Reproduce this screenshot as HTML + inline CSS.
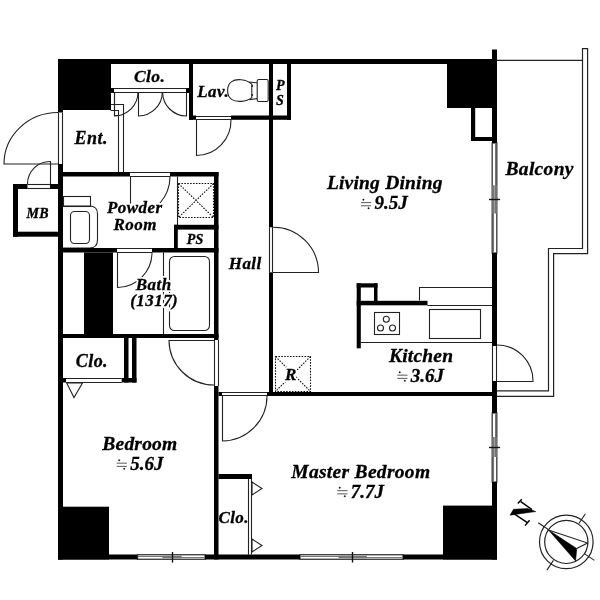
<!DOCTYPE html>
<html><head><meta charset="utf-8"><style>html,body{margin:0;padding:0;background:#fff;width:600px;height:600px;overflow:hidden}svg{display:block;will-change:transform}</style></head>
<body><svg width="600" height="600" viewBox="0 0 600 600">
<rect width="600" height="600" fill="#fff"/>
<line x1="58.5" y1="112.5" x2="58.5" y2="164" stroke="#222" stroke-width="1.1"/><line x1="62.5" y1="112.5" x2="62.5" y2="164" stroke="#222" stroke-width="1.1"/><path d="M58 164L4 164A54 51.5 0 0 1 58 112.5" fill="none" stroke="#222" stroke-width="1.1"/><line x1="27.5" y1="184.5" x2="50" y2="184.5" stroke="#222" stroke-width="1.1"/><line x1="27.5" y1="188.5" x2="50" y2="188.5" stroke="#222" stroke-width="1.1"/><path d="M50.5 184L50.5 161.5A22.5 22.5 0 0 0 27.5 184" fill="none" stroke="#222" stroke-width="1.1"/><line x1="130" y1="172.5" x2="170" y2="172.5" stroke="#222" stroke-width="1.1"/><line x1="130" y1="176.5" x2="170" y2="176.5" stroke="#222" stroke-width="1.1"/><path d="M130.5 205.5L130.5 176.5" fill="none" stroke="#222" stroke-width="1.1"/><path d="M170 176.5A40 40 0 0 1 160 203" fill="none" stroke="#222" stroke-width="1.1"/><line x1="214.5" y1="340" x2="214.5" y2="386" stroke="#222" stroke-width="1.1"/><line x1="218.5" y1="340" x2="218.5" y2="386" stroke="#222" stroke-width="1.1"/><path d="M214 340.5L169 340.5A45 45 0 0 0 214 385" fill="none" stroke="#222" stroke-width="1.1"/><line x1="117" y1="248.5" x2="152" y2="248.5" stroke="#222" stroke-width="1.1"/><line x1="117" y1="252.5" x2="152" y2="252.5" stroke="#222" stroke-width="1.1"/><path d="M117.5 252.5L117.5 287.5A35 35 0 0 0 152 252.5" fill="none" stroke="#222" stroke-width="1.1"/><line x1="66" y1="378.5" x2="121.7" y2="378.5" stroke="#222" stroke-width="1.1"/><line x1="66" y1="382.5" x2="121.7" y2="382.5" stroke="#222" stroke-width="1.1"/><path d="M66.7 383L82.5 383L74 397.5Z" fill="none" stroke="#222" stroke-width="1.1"/><line x1="222" y1="392.5" x2="267" y2="392.5" stroke="#222" stroke-width="1.1"/><line x1="222" y1="395.5" x2="267" y2="395.5" stroke="#222" stroke-width="1.1"/><path d="M222.5 396L222.5 441A45 45 0 0 0 267 396" fill="none" stroke="#222" stroke-width="1.1"/><line x1="269.5" y1="227.3" x2="269.5" y2="272.3" stroke="#222" stroke-width="1.1"/><line x1="272.5" y1="227.3" x2="272.5" y2="272.3" stroke="#222" stroke-width="1.1"/><path d="M273 272.5L318.5 272.5A45.3 45.3 0 0 0 273 227.3" fill="none" stroke="#222" stroke-width="1.1"/><line x1="196" y1="116.5" x2="231" y2="116.5" stroke="#222" stroke-width="1.1"/><line x1="196" y1="119.5" x2="231" y2="119.5" stroke="#222" stroke-width="1.1"/><path d="M196.5 119.8L196.5 155.5A35 35 0 0 0 231 119.8" fill="none" stroke="#222" stroke-width="1.1"/><line x1="248.5" y1="479" x2="248.5" y2="554.5" stroke="#222" stroke-width="1.1"/><line x1="251.5" y1="479" x2="251.5" y2="554.5" stroke="#222" stroke-width="1.1"/><path d="M252 482L262 488.5L252 495Z" fill="none" stroke="#222" stroke-width="1.1"/><path d="M252 539L262 545.5L252 552Z" fill="none" stroke="#222" stroke-width="1.1"/><line x1="492.5" y1="346" x2="492.5" y2="381" stroke="#222" stroke-width="1.1"/><line x1="496.5" y1="346" x2="496.5" y2="381" stroke="#222" stroke-width="1.1"/><path d="M497 381.5L533 381.5A36 36 0 0 0 497 345" fill="none" stroke="#222" stroke-width="1.1"/><line x1="111" y1="88.5" x2="189" y2="88.5" stroke="#222" stroke-width="1.1"/><line x1="111" y1="92.5" x2="189" y2="92.5" stroke="#222" stroke-width="1.1"/><path d="M114.5 92.2L114.5 116A24 24 0 0 0 138 92.2" fill="none" stroke="#222" stroke-width="1.1"/><path d="M138.5 92.2L138.5 116A24 24 0 0 0 162.3 92.2" fill="none" stroke="#222" stroke-width="1.1"/><path d="M186.5 92.2L186.5 116A24 24 0 0 1 162.6 92.2" fill="none" stroke="#222" stroke-width="1.1"/><path d="M110.5 104.5L123.5 104.5L123.5 172.5" fill="none" stroke="#222" stroke-width="1.1"/><path d="M110.5 110.5L118.5 110.5L118.5 172.5" fill="none" stroke="#222" stroke-width="1.1"/><path d="M114.5 92.5L114.5 115.5L118.5 115.5" fill="none" stroke="#222" stroke-width="1.1"/><rect x="63.5" y="196.5" width="27.0" height="10.0" rx="0" fill="none" stroke="#222" stroke-width="1.1"/><path d="M63 206L89.5 206Q97.5 206 97.5 214L97.5 240Q97.5 248 89.5 248L63 248" fill="none" stroke="#222" stroke-width="1.1"/><rect x="70.5" y="211.5" width="19.0" height="32.0" rx="4" fill="none" stroke="#222" stroke-width="1.1"/><path d="M177.5 176.5L177.5 225.5" fill="none" stroke="#222" stroke-width="1.1"/><rect x="178.5" y="183.5" width="35.0" height="34.0" rx="0" fill="none" stroke="#111" stroke-width="1.1" stroke-dasharray="1.6 1.3"/><path d="M178.5 183.5L213.5 217.5M213.5 183.5L178.5 217.5" fill="none" stroke="#111" stroke-width="1.1" stroke-dasharray="1.6 1.3"/><line x1="163.5" y1="252.5" x2="163.5" y2="334" stroke="#222" stroke-width="1.1"/><rect x="169.5" y="256.5" width="40.0" height="74.0" rx="5" fill="none" stroke="#222" stroke-width="1.1"/><rect x="275.5" y="356.5" width="35.0" height="35.0" rx="0" fill="none" stroke="#111" stroke-width="1.1" stroke-dasharray="1.6 1.3"/><path d="M275.5 356.5L310.5 391.5M310.5 356.5L275.5 391.5" fill="none" stroke="#111" stroke-width="1.1" stroke-dasharray="1.6 1.3"/><path d="M419.5 300.5L419.5 287.5L492.5 287.5" fill="none" stroke="#222" stroke-width="1.1"/><line x1="427.5" y1="305.5" x2="492" y2="305.5" stroke="#222" stroke-width="1.1"/><line x1="360.8" y1="342.5" x2="492" y2="342.5" stroke="#222" stroke-width="1.1"/><rect x="374.5" y="312.5" width="25.0" height="22.0" rx="0" fill="none" stroke="#222" stroke-width="1.1"/><circle cx="386.3" cy="319.2" r="3" fill="none" stroke="#222" stroke-width="1.1"/><circle cx="380.5" cy="328" r="3" fill="none" stroke="#222" stroke-width="1.1"/><circle cx="392.5" cy="328" r="3" fill="none" stroke="#222" stroke-width="1.1"/><rect x="429.5" y="309.5" width="51.0" height="29.0" rx="0" fill="none" stroke="#222" stroke-width="1.1"/><path d="M251.8 84.2C246 78.8 236 78.6 231.6 81.6C226.3 85.3 226.3 95.8 231.6 99.4C236 102.4 246 102.2 251.8 97.6Z" fill="none" stroke="#222" stroke-width="1.1"/><path d="M249.5 82L257 82.8M249.5 99.6L257 98.6" fill="none" stroke="#222" stroke-width="1.1"/><circle cx="252.3" cy="86" r="0.9" fill="#222"/><circle cx="252.3" cy="95" r="0.9" fill="#222"/><rect x="257.2" y="79.5" width="11" height="22" rx="1.6" fill="none" stroke="#222" stroke-width="1.1"/><path d="M497 60.3L582.5 60.3L582.5 48.6L587.6 48.6L587.6 253.6L553.6 253.6L553.6 396.4L497 396.4" fill="none" stroke="#222" stroke-width="1.2"/><path d="M582.5 60.3L582.5 248.5L548.5 248.5L548.5 390.9L497 390.9" fill="none" stroke="#222" stroke-width="1.2"/><rect x="137.5" y="554.7" width="67.5" height="4.6" fill="#fff" stroke="#444" stroke-width="1.4"/><rect x="162.5" y="555.1" width="19.0" height="3.8" fill="#a0a0a0"/><line x1="137.5" y1="556.5" x2="181.5" y2="556.5" stroke="#777" stroke-width="1.1"/><line x1="162.5" y1="557.5" x2="205" y2="557.5" stroke="#777" stroke-width="1.1"/><line x1="172.5" y1="552.0" x2="172.5" y2="562.5" stroke="#111" stroke-width="1.4"/><rect x="300" y="554.7" width="103" height="4.6" fill="#fff" stroke="#444" stroke-width="1.4"/><rect x="338.7" y="555.1" width="28" height="3.8" fill="#a0a0a0"/><line x1="300" y1="556.5" x2="366.7" y2="556.5" stroke="#777" stroke-width="1.1"/><line x1="338.7" y1="557.5" x2="403" y2="557.5" stroke="#777" stroke-width="1.1"/><line x1="352.5" y1="552.0" x2="352.5" y2="562.5" stroke="#111" stroke-width="1.4"/><rect x="492.2" y="143" width="4.6" height="110" fill="#fff" stroke="#444" stroke-width="1.4"/><rect x="492.6" y="185.4" width="3.8" height="28" fill="#a0a0a0"/><line x1="495.5" y1="143" x2="495.5" y2="213.4" stroke="#777" stroke-width="1.1"/><line x1="493.5" y1="185.4" x2="493.5" y2="253" stroke="#777" stroke-width="1.1"/><line x1="489" y1="199.5" x2="500" y2="199.5" stroke="#111" stroke-width="1.4"/><rect x="492.2" y="413" width="4.6" height="69" fill="#fff" stroke="#444" stroke-width="1.4"/><rect x="492.6" y="437" width="3.8" height="20" fill="#a0a0a0"/><line x1="495.5" y1="413" x2="495.5" y2="457" stroke="#777" stroke-width="1.1"/><line x1="493.5" y1="437" x2="493.5" y2="482" stroke="#777" stroke-width="1.1"/><line x1="489" y1="447.5" x2="500" y2="447.5" stroke="#111" stroke-width="1.4"/>
<g font-family="Liberation Serif" font-weight="bold" font-style="italic" fill="#fff" stroke="#fff" stroke-width="4" stroke-linejoin="round"><text x="134.725" y="213" font-size="17" text-anchor="middle" letter-spacing="0.45">Powder</text><text x="135.225" y="230" font-size="17" text-anchor="middle" letter-spacing="0.45">Room</text><text x="153.725" y="290" font-size="17" text-anchor="middle" letter-spacing="0.45">Bath</text><text x="154.225" y="306" font-size="17" text-anchor="middle" letter-spacing="0.45">(1317)</text><text x="290.925" y="380" font-size="17" text-anchor="middle" letter-spacing="0.45">R</text></g>
<g fill="#000"><rect x="58" y="59" width="439.00" height="5.00"/><rect x="58" y="59" width="53.00" height="51.00"/><rect x="58" y="109" width="5.00" height="3.50"/><rect x="58" y="164" width="5.00" height="395.50"/><rect x="58" y="554.5" width="79.50" height="5.00"/><rect x="205" y="554.5" width="95.00" height="5.00"/><rect x="403" y="554.5" width="94.00" height="5.00"/><rect x="58" y="506.7" width="51.00" height="52.80"/><rect x="443" y="505.6" width="54.00" height="53.90"/><rect x="447" y="59" width="50.00" height="49.00"/><rect x="471" y="108" width="4.20" height="33.00"/><rect x="471" y="137" width="21.00" height="4.00"/><rect x="492" y="49.5" width="5.00" height="93.50"/><rect x="492" y="253" width="5.00" height="93.00"/><rect x="492" y="381" width="5.00" height="32.00"/><rect x="492" y="482" width="5.00" height="77.50"/><rect x="13" y="184" width="14.50" height="5.00"/><rect x="50" y="184" width="8.00" height="5.00"/><rect x="13" y="184" width="5.00" height="52.70"/><rect x="13" y="231.7" width="45.00" height="5.00"/><rect x="63" y="172" width="67.00" height="4.50"/><rect x="170" y="172" width="48.50" height="4.50"/><rect x="214" y="172" width="4.50" height="168.00"/><rect x="214" y="386" width="4.50" height="173.50"/><rect x="63" y="248" width="54.00" height="4.50"/><rect x="152" y="248" width="66.50" height="4.50"/><rect x="84" y="252.5" width="29.00" height="85.50"/><rect x="63" y="334" width="155.50" height="4.00"/><rect x="124" y="338" width="4.50" height="44.50"/><rect x="132" y="338" width="4.50" height="44.50"/><rect x="121.7" y="378" width="14.80" height="4.50"/><rect x="63" y="378" width="3.00" height="4.50"/><rect x="218.5" y="392" width="3.50" height="4.00"/><rect x="267" y="392" width="225.00" height="4.00"/><rect x="269" y="64" width="4.00" height="163.30"/><rect x="269" y="272.3" width="4.00" height="123.70"/><rect x="189" y="64" width="4.00" height="55.80"/><rect x="189" y="115.5" width="7.00" height="4.30"/><rect x="231" y="115.5" width="60.00" height="4.30"/><rect x="287" y="64" width="4.00" height="55.80"/><rect x="174" y="224.8" width="44.50" height="4.80"/><rect x="174" y="224.8" width="3.80" height="26.20"/><rect x="356.7" y="283.3" width="4.10" height="65.00"/><rect x="356.7" y="283.3" width="20.80" height="4.20"/><rect x="374" y="283.3" width="3.50" height="21.70"/><rect x="356.7" y="300.8" width="70.80" height="4.50"/><rect x="218.5" y="474" width="33.50" height="5.00"/><rect x="111" y="88.5" width="3.00" height="4.00"/><rect x="186" y="88.5" width="3.00" height="4.00"/><rect x="189" y="88.5" width="4.00" height="30.50"/></g>
<circle cx="566.3" cy="541.9" r="26.8" fill="none" stroke="#222" stroke-width="1.2"/><line x1="538.2" y1="522.8" x2="594.4" y2="560.4" stroke="#222" stroke-width="1.1"/><line x1="585.4" y1="513.8" x2="578.9" y2="523.5" stroke="#222" stroke-width="1.1"/><line x1="553.4" y1="560.4" x2="546.9" y2="570.1" stroke="#222" stroke-width="1.1"/><circle cx="566.3" cy="541.9" r="21.6" fill="#fff" stroke="#222" stroke-width="1.2"/><path d="M548.5 530L587.5 543L576.7 548.5" fill="none" stroke="#222" stroke-width="1.1"/><path d="M548.5 530L576.7 548.5L575.6 560.9Z" fill="#000" stroke="#000" stroke-width="0.6"/><path d="M535.8 511.6L527.5 508.5L513.5 509.3L510 515.2L517 514.2Z" fill="#000" stroke="#000" stroke-width="0.5"/><path d="M520.8 501.6L532 509.6M513.8 513.6L527.4 522.6M517.8 503.6L521.8 499.2M525 525.6L529.6 520.2" stroke="#000" stroke-width="1.45" fill="none"/>
<g font-family="Liberation Serif" font-weight="bold" font-style="italic" fill="#000" stroke="#000" stroke-width="0.3"><text x="149.625" y="82.4" font-size="17.5" text-anchor="middle" letter-spacing="0.45">Clo.</text><text x="213.225" y="97" font-size="17" text-anchor="middle" letter-spacing="0.45">Lav.</text><text x="280.625" y="89.7" font-size="14" text-anchor="middle" letter-spacing="0.45">P</text><text x="280.02500000000003" y="104.5" font-size="14" text-anchor="middle" letter-spacing="0.45">S</text><text x="91.225" y="143.5" font-size="18" text-anchor="middle" letter-spacing="0.45">Ent.</text><text x="37.725" y="217.5" font-size="14" text-anchor="middle" letter-spacing="0.45">MB</text><text x="134.725" y="213" font-size="17" text-anchor="middle" letter-spacing="0.45">Powder</text><text x="135.225" y="230" font-size="17" text-anchor="middle" letter-spacing="0.45">Room</text><text x="195.0" y="243.9" font-size="14" text-anchor="middle" letter-spacing="0.2">PS</text><text x="153.725" y="290" font-size="17" text-anchor="middle" letter-spacing="0.45">Bath</text><text x="154.225" y="306" font-size="17" text-anchor="middle" letter-spacing="0.45">(1317)</text><text x="245.225" y="269" font-size="17" text-anchor="middle" letter-spacing="0.45">Hall</text><text x="384.8" y="189.3" font-size="19.5" text-anchor="middle" letter-spacing="0.2">Living Dining</text><g stroke="#555" stroke-width="0.97"><line x1="361" y1="202.58" x2="371.23" y2="202.58"/><line x1="361" y1="205.79" x2="371.23" y2="205.79"/></g><circle cx="363.44" cy="199.66" r="0.78" fill="#000"/><circle cx="368.55" cy="208.18" r="0.78" fill="#000"/><text x="374.5" y="209.4" font-size="19" text-anchor="start">9.5J</text><text x="539.65" y="175" font-size="19.5" text-anchor="middle" letter-spacing="0.3">Balcony</text><text x="421.1" y="362" font-size="19.5" text-anchor="middle" letter-spacing="0.2">Kitchen</text><g stroke="#555" stroke-width="0.97"><line x1="397.3" y1="375.18" x2="407.53" y2="375.18"/><line x1="397.3" y1="378.39" x2="407.53" y2="378.39"/></g><circle cx="399.74" cy="372.26" r="0.78" fill="#000"/><circle cx="404.85" cy="380.78" r="0.78" fill="#000"/><text x="410.8" y="382" font-size="19" text-anchor="start">3.6J</text><text x="91.925" y="366.7" font-size="18" text-anchor="middle" letter-spacing="0.45">Clo.</text><text x="139.9" y="450" font-size="19.5" text-anchor="middle" letter-spacing="0.2">Bedroom</text><g stroke="#555" stroke-width="0.97"><line x1="116.7" y1="463.18" x2="126.93" y2="463.18"/><line x1="116.7" y1="466.39" x2="126.93" y2="466.39"/></g><circle cx="119.14" cy="460.26" r="0.78" fill="#000"/><circle cx="124.25" cy="468.78" r="0.78" fill="#000"/><text x="130.2" y="470" font-size="19" text-anchor="start">5.6J</text><text x="360.84999999999997" y="478" font-size="19.5" text-anchor="middle" letter-spacing="0.3">Master Bedroom</text><g stroke="#555" stroke-width="0.97"><line x1="337.3" y1="490.68" x2="347.53" y2="490.68"/><line x1="337.3" y1="493.89" x2="347.53" y2="493.89"/></g><circle cx="339.74" cy="487.76" r="0.78" fill="#000"/><circle cx="344.85" cy="496.28" r="0.78" fill="#000"/><text x="350.8" y="497.5" font-size="19" text-anchor="start">7.7J</text><text x="233.725" y="523" font-size="17" text-anchor="middle" letter-spacing="0.45">Clo.</text><text x="290.925" y="380" font-size="17" text-anchor="middle" letter-spacing="0.45">R</text></g>
</svg></body></html>
